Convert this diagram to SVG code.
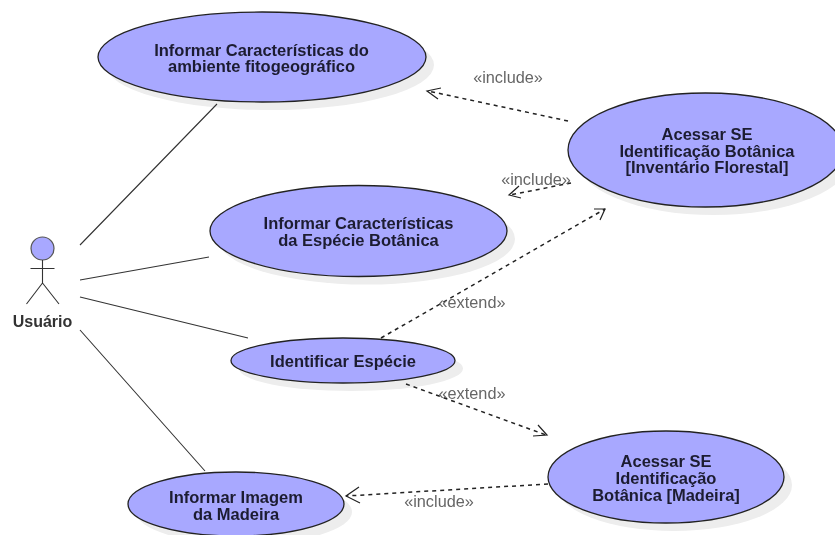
<svg xmlns="http://www.w3.org/2000/svg" width="835" height="535" viewBox="0 0 835 535">
<defs><filter id="soft" x="-5%" y="-5%" width="110%" height="110%"><feGaussianBlur stdDeviation="0.35"/></filter></defs>
<style>
.uc{fill:#a8a8ff;stroke:#222;stroke-width:1.3}
.sh{fill:#ededed;stroke:none}
.t{font-family:"Liberation Sans",Arial,sans-serif;font-size:16.500px;font-weight:bold;fill:#1c1c30;text-anchor:middle;filter:url(#soft)}
.l{font-family:"Liberation Sans",Arial,sans-serif;font-size:16.300px;fill:#666;text-anchor:middle;filter:url(#soft)}
.a{stroke:#333;stroke-width:1.1;fill:none}
.d{stroke:#222;stroke-width:1.5;fill:none;stroke-dasharray:4 4}
.h{stroke:#222;stroke-width:1.2;fill:none}
</style>
<rect width="835" height="535" fill="#fff"/>
<g id="uc1"><ellipse class="sh" cx="270" cy="65" rx="164" ry="45"/><ellipse class="uc" cx="262" cy="57" rx="164" ry="45"/><text class="t"><tspan x="261.500" y="55.500">Informar Características do</tspan><tspan x="261.500" y="72">ambiente fitogeográfico</tspan></text></g>
<g id="uc2"><ellipse class="sh" cx="366.500" cy="239" rx="148.500" ry="45.500"/><ellipse class="uc" cx="358.500" cy="231" rx="148.500" ry="45.500"/><text class="t"><tspan x="358.500" y="229">Informar Características</tspan><tspan x="358.500" y="246">da Espécie Botânica</tspan></text></g>
<g id="uc3"><ellipse class="sh" cx="351" cy="368.500" rx="112" ry="22.500"/><ellipse class="uc" cx="343" cy="360.500" rx="112" ry="22.500"/><text class="t" x="343" y="366.500">Identificar Espécie</text></g>
<g id="uc4"><ellipse class="sh" cx="244" cy="512" rx="108" ry="32"/><ellipse class="uc" cx="236" cy="504" rx="108" ry="32"/><text class="t"><tspan x="236" y="503">Informar Imagem</tspan><tspan x="236" y="519.500">da Madeira</tspan></text></g>
<g id="uc5"><ellipse class="sh" cx="713.500" cy="158" rx="137.500" ry="57"/><ellipse class="uc" cx="705.500" cy="150" rx="137.500" ry="57"/><text class="t"><tspan x="707" y="140">Acessar SE</tspan><tspan x="707" y="156.500">Identificação Botânica</tspan><tspan x="707" y="173">[Inventário Florestal]</tspan></text></g>
<g id="uc6"><ellipse class="sh" cx="674" cy="485" rx="118" ry="46"/><ellipse class="uc" cx="666" cy="477" rx="118" ry="46"/><text class="t"><tspan x="666" y="467">Acessar SE</tspan><tspan x="666" y="484">Identificação</tspan><tspan x="666" y="501">Botânica [Madeira]</tspan></text></g>
<g id="actor">
<circle cx="42.500" cy="248.500" r="11.500" fill="#a8a8ff" stroke="#555" stroke-width="1.2"/>
<path class="a" d="M42.500 260V283M30.500 268.500H54.500M42.500 283L26.500 304M42.500 283L59 304"/>
<text class="t" x="42.500" y="327" style="fill:#333;font-size:16px">Usuário</text>
</g>
<g id="connectors">
<path class="a" d="M80 245L217 104M80 280L209 257M80 297L248 338M80 330L205 471"/>
<path class="d" d="M568 121L428 91M571 183L510 195M381 338L605 209M406 384L546 435M548 484L346 496"/>
<path class="h" d="M441 88L427 91L438 99M521 198L509 195L519 186M594 209L605 209L600 220M533 436L547 435L538 425M359 487L346 496L360 503"/>
</g>
<g id="labels">
<text class="l" x="508" y="83">«include»</text>
<text class="l" x="536" y="185">«include»</text>
<text class="l" x="472" y="308">«extend»</text>
<text class="l" x="472" y="399">«extend»</text>
<text class="l" x="439" y="507">«include»</text>
</g>
</svg>
